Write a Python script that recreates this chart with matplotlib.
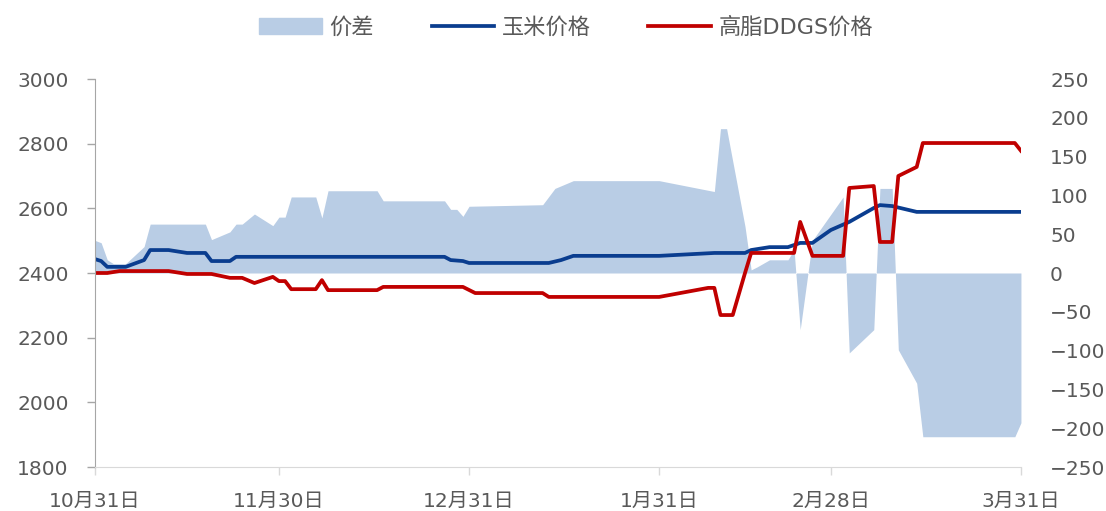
import matplotlib
matplotlib.use("Agg")
import matplotlib.pyplot as plt
from matplotlib.patches import Patch
from matplotlib.lines import Line2D

plt.rcParams['font.family'] = ['DejaVu Sans', 'Noto Sans CJK SC']

# days counted from 10月31日
tick_days = [0, 30, 61, 92, 120, 151]
tick_labels = ["10月31日", "11月30日", "12月31日", "1月31日", "2月28日", "3月31日"]

# 玉米价格 (left axis)
corn_days = [0, 1, 2, 5, 8, 9, 12, 15, 18, 19, 22, 23, 57, 58, 60, 61, 74, 76, 78, 92,
             101, 106, 107, 110, 113, 115, 117, 120, 123, 127, 128, 130, 134, 151]
corn_price = [2443, 2437, 2419, 2419, 2440, 2471, 2471, 2462, 2462, 2437, 2437, 2450, 2450,
              2440, 2437, 2431, 2431, 2440, 2453, 2453, 2462, 2462, 2471, 2480, 2480, 2493,
              2493, 2533, 2558, 2601, 2610, 2607, 2589, 2589]

# 高脂DDGS价格 (left axis)
ddgs_days = [0, 2, 4, 12, 15, 19, 22, 24, 26, 29, 30, 31, 32, 36, 37, 38, 46, 47, 60, 62,
             73, 74, 92, 100, 101, 102, 104, 106, 107, 114, 115, 117, 122, 123, 127, 128,
             130, 131, 134, 135, 150, 151]
ddgs_price = [2400, 2400, 2406, 2406, 2397, 2397, 2385, 2385, 2369, 2388, 2375, 2375, 2350,
              2350, 2378, 2347, 2347, 2357, 2357, 2338, 2338, 2326, 2326, 2354, 2354, 2270,
              2270, 2400, 2462, 2462, 2558, 2453, 2453, 2663, 2669, 2496, 2496, 2700, 2728,
              2802, 2802, 2778]

# 价差 (right axis)
spread_days = [0, 1, 2, 3, 5, 8, 9, 18, 19, 22, 23, 24, 26, 29, 30, 31, 32, 36, 37, 38, 46,
               47, 57, 58, 59, 60, 61, 73, 75, 78, 92, 101, 102, 103, 106, 107, 108, 110,
               113, 114, 115, 117, 122, 123, 127, 128, 130, 131, 134, 135, 150, 151]
spread = [42, 39, 17, 12, 12, 34, 63, 63, 43, 53, 63, 63, 76, 61, 72, 72, 98, 98, 71, 106,
          106, 93, 93, 82, 82, 73, 86, 88, 109, 119, 119, 105, 186, 186, 60, 4, 8, 17, 17,
          30, -73, 42, 98, -103, -73, 109, 109, -99, -142, -211, -211, -193]

fig = plt.figure(figsize=(11.06, 5.11), dpi=100)
ax1 = fig.add_axes([0.0859, 0.0861, 0.8372, 0.7593])
ax2 = ax1.twinx()

ax2.fill_between(spread_days, 0, spread, color="#B9CDE5", linewidth=0, interpolate=True)
ax1.plot(corn_days, corn_price, color="#0A3D8F", linewidth=2.7)
ax1.plot(ddgs_days, ddgs_price, color="#C00000", linewidth=2.7)

# lines above the area
ax1.set_zorder(ax2.get_zorder() + 1)
ax1.patch.set_visible(False)

ax1.set_xlim(0, 151)
ax1.set_ylim(1800, 3000)
ax1.set_yticks(range(1800, 3001, 200))
ax2.set_ylim(-250, 250)
ax2.set_yticks(range(-250, 251, 50))
ax1.set_xticks(tick_days)
ax1.set_xticklabels(tick_labels)

grey = "#595959"
for a in (ax1, ax2):
    for s in ("top", "right"):
        a.spines[s].set_visible(False)
    a.tick_params(labelsize=14.5, colors=grey, length=6, width=1)
ax2.spines["left"].set_visible(False)
ax2.spines["bottom"].set_visible(False)
ax1.spines["left"].set_color("#A6A6A6")
ax1.spines["bottom"].set_color("#D9D9D9")
ax1.tick_params(axis="y", color="#A6A6A6", pad=13)
ax1.tick_params(axis="x", color="#D9D9D9", pad=12)
ax2.tick_params(axis="y", length=0, pad=21)

handles = [Patch(color="#B9CDE5"),
           Line2D([], [], color="#0A3D8F", linewidth=2.7),
           Line2D([], [], color="#C00000", linewidth=2.7)]
fig.legend(handles, ["价差", "玉米价格", "高脂DDGS价格"], loc="center",
           bbox_to_anchor=(0.512, 0.947), ncol=3, frameon=False, fontsize=16,
           labelcolor=grey, handlelength=2.8, columnspacing=2.6, handletextpad=0.35)

fig.savefig("out.png", dpi=100)
